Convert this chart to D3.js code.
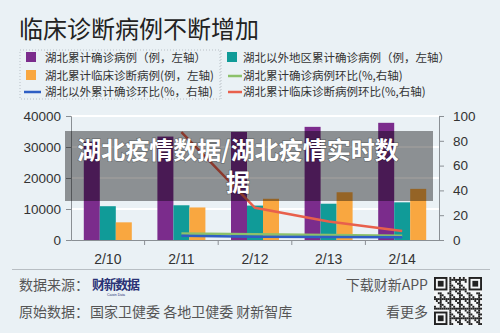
<!DOCTYPE html>
<html>
<head>
<meta charset="utf-8">
<script src="https://cdn.jsdelivr.net/npm/d3@7"></script>
<style>
  body { margin: 0; background: #eaf1f5; }
  svg { display: block; font-family: "Liberation Sans", "Noto Sans CJK SC", sans-serif; }
</style>
</head>
<body>
<div id="chart"></div>
<script>
// chart values
const dates = ['2/10', '2/11', '2/12', '2/13', '2/14'];
const hubeiConfirmed = [31728, 33366, 34874, 36500, 37800];
const outsideConfirmed = [10900, 11200, 11100, 11700, 12150];
const hubeiClinical = [5700, 10500, 13300, 15400, 16500];
const hubeiConfirmedGrowth = [null, 5.2, 4.6, 4.0, 3.4];
const outsideGrowth = [null, 3.4, 2.6, 2.4, 2.2];
const clinicalGrowth = [null, 87, 26, 15, 7.3];
const leftTicks = [0, 10000, 20000, 30000, 40000];
const rightTicks = [0, 20, 40, 60, 80, 100];

const W = 500, H = 333;
const plot = {left: 71, right: 439, top: 116, bottom: 240};

const svg = d3.select('#chart').append('svg')
    .attr('width', W)
    .attr('height', H);

svg.append('rect').attr('width', W).attr('height', H).attr('fill', '#eaf1f5');

// title
svg.append('text')
    .attr('x', 19).attr('y', 38)
    .attr('font-family', '"Noto Sans CJK SC"')
    .attr('font-size', 24)
    .attr('fill', '#222')
    .text('临床诊断病例不断增加');

// legend
const barSeries = [
    {key: 'hubei', values: hubeiConfirmed, color: '#7b2c8c'},
    {key: 'outside', values: outsideConfirmed, color: '#109b98'},
    {key: 'clinical', values: hubeiClinical, color: '#f9a740'}
];
const lineSeries = [
    {values: hubeiConfirmedGrowth, color: '#8cc16a'},
    {values: outsideGrowth, color: '#2f5fc4'},
    {values: clinicalGrowth, color: '#e8604c'}
];

const legendItems = [
    {label: '湖北累计确诊病例（例，左轴）', type: 'rect', color: '#7b2c8c', col: 0, row: 0},
    {label: '湖北以外地区累计确诊病例（例，左轴）', type: 'rect', color: '#109b98', col: 1, row: 0},
    {label: '湖北累计临床诊断病例(例，左轴)', type: 'rect', color: '#f9a740', col: 0, row: 1},
    {label: '湖北累计确诊病例环比(%,右轴)', type: 'line', color: '#8cc16a', col: 1, row: 1},
    {label: '湖北以外累计确诊环比(%，右轴)', type: 'line', color: '#2f5fc4', col: 0, row: 2},
    {label: '湖北累计临床诊断病例环比(%,右轴)', type: 'line', color: '#e8604c', col: 1, row: 2}
];
const rowY = [58, 76, 92];
const colX = [20, 221];

const legend = svg.append('g');
// faint dotted frames
legend.append('rect').attr('x', 20).attr('y', 50).attr('width', 200).attr('height', 49)
    .attr('fill', 'none').attr('stroke', '#b9c0c6').attr('stroke-dasharray', '1,2');
legend.append('line').attr('x1', 221).attr('x2', 221).attr('y1', 50).attr('y2', 99)
    .attr('stroke', '#b9c0c6').attr('stroke-dasharray', '1,2');

legendItems.forEach(function (d) {
    const g = legend.append('g')
        .attr('transform', 'translate(' + colX[d.col] + ',' + rowY[d.row] + ')');
    if (d.type === 'rect') {
        g.append('rect').attr('x', 6).attr('y', -6).attr('width', 10).attr('height', 10)
            .attr('fill', d.color);
    } else {
        g.append('line').attr('x1', d.col === 0 ? 4 : 7).attr('x2', 21)
            .attr('y1', 0).attr('y2', 0)
            .attr('stroke', d.color).attr('stroke-width', 2.5);
    }
    g.append('text')
        .attr('x', d.col === 0 ? 25 : 22).attr('y', 4)
        .attr('font-family', '"Noto Sans CJK SC"')
        .attr('font-size', 11.5)
        .attr('fill', '#333')
        .text(d.label);
});

// scales
const x0 = d3.scaleBand().domain(dates).range([plot.left, plot.right]).padding(0);
const x1 = d3.scaleBand().domain(barSeries.map(d => d.key))
    .range([12.8, x0.bandwidth() - 12.8]).padding(0);
const yLeft = d3.scaleLinear().domain([0, 40000]).range([plot.bottom, plot.top]);
const yRight = d3.scaleLinear().domain([0, 100]).range([plot.bottom, plot.top]);

// grid
svg.append('g').selectAll('line')
    .data(leftTicks.filter(t => t > 0))
    .enter().append('line')
    .attr('x1', plot.left).attr('x2', plot.right)
    .attr('y1', d => yLeft(d)).attr('y2', d => yLeft(d))
    .attr('stroke', '#ffffff').attr('stroke-width', 2);

// bars
barSeries.forEach(function (s) {
    svg.append('g').selectAll('rect')
        .data(dates)
        .enter().append('rect')
        .attr('x', (d) => x0(d) + x1(s.key))
        .attr('width', x1.bandwidth())
        .attr('y', (d, i) => yLeft(s.values[i]))
        .attr('height', (d, i) => plot.bottom - yLeft(s.values[i]))
        .attr('fill', s.color);
});

// lines on right axis
const line = d3.line()
    .defined(d => d.v !== null)
    .x(d => x0(d.date) + x0.bandwidth() / 2)
    .y(d => yRight(d.v));

lineSeries.forEach(function (s) {
    svg.append('path')
        .datum(dates.map((date, i) => ({date: date, v: s.values[i]})))
        .attr('d', line)
        .attr('fill', 'none')
        .attr('stroke', s.color)
        .attr('stroke-width', 2.5);
});

// axes
const axisColor = '#8a8f94';
const leftAxis = svg.append('g')
    .attr('transform', 'translate(' + plot.left + ',0)')
    .call(d3.axisLeft(yLeft).tickValues(leftTicks).tickFormat(d3.format('d')).tickSize(5).tickPadding(5));
const rightAxis = svg.append('g')
    .attr('transform', 'translate(' + plot.right + ',0)')
    .call(d3.axisRight(yRight).tickValues(rightTicks).tickSize(5).tickPadding(9));
const bottomAxis = svg.append('g')
    .attr('transform', 'translate(0,' + plot.bottom + ')')
    .call(d3.axisBottom(x0).tickSize(0).tickPadding(14));

// band separators as ticks
svg.append('g').selectAll('line')
    .data(dates.slice(1))
    .enter().append('line')
    .attr('x1', d => x0(d)).attr('x2', d => x0(d))
    .attr('y1', plot.bottom).attr('y2', plot.bottom + 5)
    .attr('stroke', axisColor);

[leftAxis, rightAxis, bottomAxis].forEach(function (a) {
    a.select('.domain').attr('stroke', axisColor);
    a.selectAll('.tick line').attr('stroke', axisColor);
    a.selectAll('text')
        .attr('fill', '#333')
        .attr('font-size', 13.5)
        .attr('font-family', '"Liberation Sans", sans-serif');
});
bottomAxis.selectAll('text').attr('font-size', 14);

// banner overlay
svg.append('rect')
    .attr('x', 65).attr('y', 131).attr('width', 368).attr('height', 70)
    .attr('fill', 'rgba(0,0,0,0.4)');
const banner = svg.append('text')
    .attr('font-family', '"Noto Sans CJK SC"')
    .attr('font-weight', 'bold')
    .attr('font-size', 24)
    .attr('fill', '#ffffff')
    .attr('text-anchor', 'middle')
    .style('paint-order', 'stroke')
    .attr('stroke', 'rgba(0,0,0,0.25)')
    .attr('stroke-width', 1.5);
banner.append('tspan').attr('x', 238).attr('y', 159).text('湖北疫情数据/湖北疫情实时数');
banner.append('tspan').attr('x', 238).attr('y', 191).text('据');

// footer
svg.append('line')
    .attr('x1', 12).attr('x2', 490).attr('y1', 269.5).attr('y2', 269.5)
    .attr('stroke', '#b8bec3');

const footer = svg.append('g')
    .attr('font-family', '"Noto Sans CJK SC"')
    .attr('font-size', 14)
    .attr('fill', '#555');
footer.append('text').attr('x', 19).attr('y', 290).text('数据来源：');
footer.append('text').attr('x', 19).attr('y', 317).text('原始数据：');
footer.append('text').attr('x', 90).attr('y', 317).text('国家卫健委 各地卫健委 财新智库');
footer.append('text').attr('x', 428).attr('y', 290).attr('text-anchor', 'end').text('下载财新APP');
footer.append('text').attr('x', 428).attr('y', 317).attr('text-anchor', 'end').text('看更多');

// caixin data logo
svg.append('text')
    .attr('x', 92).attr('y', 289)
    .attr('font-family', '"Noto Sans CJK SC"')
    .attr('font-weight', 'bold')
    .attr('font-size', 13)
    .attr('fill', '#2a3275')
    .attr('textLength', 48)
    .text('财新数据');
svg.append('text')
    .attr('x', 116).attr('y', 296)
    .attr('text-anchor', 'middle')
    .attr('font-size', 3.5)
    .attr('fill', '#2a3275')
    .text('Caixin Data');

// qr code (decorative)
const qr = svg.append('g').attr('transform', 'translate(434,277)');
const n = 25, cell = 48 / n;
qr.append('rect').attr('width', 48).attr('height', 48).attr('fill', '#f4f6f7');
const cells = [];
for (let i = 0; i < n; i++) {
    for (let j = 0; j < n; j++) {
        const inFinder = (i < 8 && j < 8) || (i < 8 && j >= n - 8) || (i >= n - 8 && j < 8);
        if (inFinder) continue;
        if (((i * 7 + j * 11 + i * j * 3) % 5) < 2) cells.push([i, j]);
    }
}
qr.selectAll('rect.m').data(cells).enter().append('rect')
    .attr('class', 'm')
    .attr('x', d => d[0] * cell).attr('y', d => d[1] * cell)
    .attr('width', cell).attr('height', cell)
    .attr('fill', '#222');
[[0, 0], [n - 7, 0], [0, n - 7]].forEach(function (p) {
    qr.append('rect').attr('x', p[0] * cell + cell / 2).attr('y', p[1] * cell + cell / 2)
        .attr('width', 6 * cell).attr('height', 6 * cell)
        .attr('fill', 'none').attr('stroke', '#222').attr('stroke-width', cell);
    qr.append('rect').attr('x', (p[0] + 2) * cell).attr('y', (p[1] + 2) * cell)
        .attr('width', 3 * cell).attr('height', 3 * cell).attr('fill', '#222');
});
</script>
</body>
</html>
